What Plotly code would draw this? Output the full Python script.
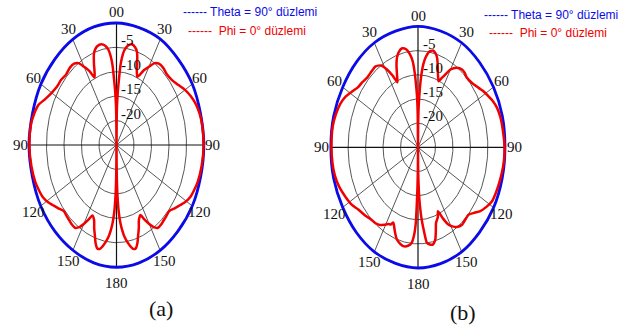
import numpy as np
import plotly.graph_objects as go

# ---------------- data ----------------
R_MIN, R_MAX = -25.0, 0.0
RING_DB = [-20, -15, -10, -5, 0]
RADIAL_TICK_DB = [-5, -10, -15, -20]
RADIAL_TICK_LABELS = ["-5", "-10", "-15", "-20"]
SPOKE_ANGLES = [0, 30, 60, 90, 120, 150]
ANGLE_TICKS = [0, 30, 60, 90, 120, 150, 180, 210, 240, 270, 300, 330]
ANGLE_LABELS = ["00", "30", "60", "90", "120", "150", "180", "150", "120", "90", "60", "30"]

BLUE_THETA = [0, 15, 30, 45, 60, 75, 90, 105, 120, 135, 150, 165, 180,
              195, 210, 225, 240, 255, 270, 285, 300, 315, 330, 345, 360]
BLUE_A = [0.0, -0.1, 0.05, -0.1, 0.0, -0.15, -0.05, -0.1, 0.0, -0.1, -0.05, 0.0, 0.05,
          0.0, -0.1, -0.05, 0.0, -0.1, 0.0, -0.15, -0.05, -0.1, 0.0, 0.05, 0.0]
BLUE_B = [0.05, -0.05, 0.0, -0.1, -0.05, 0.0, -0.1, -0.05, 0.0, -0.1, 0.0, -0.05, 0.0,
          -0.1, 0.0, -0.05, -0.1, 0.0, -0.05, 0.0, -0.1, -0.05, 0.0, -0.1, 0.05]

RED_A_THETA = [0, 0.5, 1, 2, 3, 4, 5, 6.5, 9, 12, 15, 17, 19, 21, 23, 24.5, 27, 30, 33, 36,
               40, 45, 50, 55, 60, 65, 70, 75, 80, 90, 100, 108, 113, 117, 121, 124, 128,
               132, 136, 139, 142, 145, 148, 150, 152.5, 154.5, 157.5, 159.5, 161.5, 163.5,
               165.5, 167.5, 169, 171, 173, 174.7, 176, 177.2, 178.3, 179, 179.6, 180,
               180.4, 181, 181.7, 182.8, 184, 185.3, 187, 189, 191, 192.5, 194.5, 196.5,
               198.5, 200.5, 202.5, 205.5, 207.5, 210, 212, 215, 218, 221, 224, 228, 232,
               236, 239, 243, 247, 252, 260, 270, 280, 285, 290, 295, 300, 305, 310, 315,
               320, 324, 327, 330, 333, 335.5, 337, 339, 341, 343, 345, 348, 351, 353.5,
               355, 356, 357, 358, 359, 359.5, 360]
RED_A_DB = [-25, -21, -17, -14, -11.5, -8.6, -7, -5.5, -4.4, -3.9, -4.3, -5.0, -6.8, -8.8,
            -9.8, -9.3, -7.8, -6.5, -5.0, -4.4, -4.3, -4.6, -4.3, -3.5, -2.4, -1.5, -0.8,
            -0.4, -0.2, -0.1, -0.3, -0.6, -1.0, -1.4, -2.2, -3.0, -3.9, -4.75, -4.6, -4.5,
            -4.3, -4.3, -5.2, -6.3, -7.8, -9.1, -8.3, -6.8, -5.5, -4.0, -3.1, -3.2, -3.8,
            -4.8, -6.0, -7.5, -9, -11, -14, -17, -21, -25,
            -21, -17, -14, -11, -9, -7.5, -6.0, -4.8, -3.8, -3.2, -3.1, -4.0, -5.5, -6.8,
            -8.3, -9.0, -7.8, -6.3, -5.2, -4.3, -4.3, -4.5, -4.6, -4.75, -3.9, -3.0, -2.2,
            -1.4, -1.0, -0.6, -0.3, -0.1, -0.2, -0.6, -1.2, -2.6, -3.6, -4.2, -4.3, -4.6,
            -4.3, -4.4, -5.0, -6.5, -8.0, -9.8, -9.0, -7.0, -5.2, -4.4, -4.0, -3.9, -4.4,
            -5.5, -7, -8.6, -11.5, -14, -17, -21, -25]

RED_B_THETA = [0, 0.5, 1, 2, 3, 4, 5, 6.5, 9, 12, 14.5, 16.5, 18.5, 20.8, 23.4, 25, 26.6,
               30, 34, 38, 41, 44, 49, 54.7, 58, 62.4, 66, 70, 75, 79, 90, 97.5, 107.6, 113,
               118, 122, 126.6, 130, 134, 138, 141.8, 146, 149, 151.3, 154, 156.6, 158.5,
               161.8, 163.5, 165.5, 168.2, 170.5, 172.6, 174.6, 176, 177, 178, 179, 179.6, 180,
               180.4, 181, 181.7, 182.4, 183.5, 185.3, 188, 191.6, 194.5, 197.7, 200.5, 203,
               204.5, 206, 208, 211, 214, 218, 222, 227, 233, 238, 244, 250, 256, 262, 270,
               280, 286, 292, 297, 302, 306, 310, 315, 320, 324, 328, 331, 334, 336.3, 338,
               340, 342, 344.5, 347.5, 350.5, 353, 355, 356.5, 357.5, 358.5, 359.3, 360]
RED_B_DB = [-25, -21, -17.5, -14.5, -11.5, -9.3, -7.8, -6.4, -5.0, -4.5, -4.9, -5.7, -7.2,
            -8.9, -10.1, -9.3, -8.5, -6.4, -5.1, -4.55, -4.6, -4.9, -4.6, -3.7, -3.0, -2.2,
            -1.5, -0.95, -0.6, -0.5, -0.2, -0.25, -0.6, -0.8, -1.05, -1.8, -2.8, -3.9, -4.9,
            -4.8, -4.6, -5.1, -5.9, -6.7, -8.5, -10.6, -9.5, -8.5, -7.0, -5.25, -4.4, -4.6,
            -5.0, -7.9, -10, -12, -14.5, -18, -21, -25,
            -21, -17, -13, -9, -6.8, -5.1, -4.4, -4.1, -4.4, -5.0, -6.2, -7.4, -7.9, -7.2,
            -7.0, -6.3, -5.6, -5.1, -4.9, -4.3, -3.6, -2.6, -1.8, -1.0, -0.5, -0.3, -0.2,
            -0.2, -0.5, -1.0, -1.8, -3.0, -3.8, -4.1, -4.5, -4.4, -4.3, -5.0, -6.5, -8.5,
            -10.3, -9.0, -7.0, -5.5, -4.5, -4.0, -4.4, -5.5, -7.0, -9.5, -12, -14.5, -18, -25]

LEGEND_BLUE = "------ Theta = 90° düzlemi"
LEGEND_RED = "------  Phi = 0° düzlemi"
PANEL_LABELS = ["(a)", "(b)"]

BLUE = "#0b0be8"
RED = "#f00000"
GRID = "#444444"


def to_xy(theta, db):
    t = np.radians(np.asarray(theta, dtype=float))
    rho = np.clip((np.asarray(db, dtype=float) - R_MIN) / (R_MAX - R_MIN), 0, None)
    return rho * np.sin(t), rho * np.cos(t)


fig = go.Figure()

panels = [
    dict(xa="x", ya="y", blue=BLUE_A, red_t=RED_A_THETA, red_r=RED_A_DB),
    dict(xa="x2", ya="y2", blue=BLUE_B, red_t=RED_B_THETA, red_r=RED_B_DB),
]

for p in panels:
    xa, ya = p["xa"], p["ya"]
    circ_t = np.linspace(0, 360, 361)
    for rdb in RING_DB:
        x, y = to_xy(circ_t, np.full_like(circ_t, rdb))
        fig.add_trace(go.Scatter(x=x, y=y, mode="lines", xaxis=xa, yaxis=ya,
                                 line=dict(color=GRID, width=0.9), hoverinfo="skip",
                                 showlegend=False))
    for ang in SPOKE_ANGLES:
        x, y = to_xy([ang, ang + 180], [R_MAX, R_MAX])
        main = ang in (0, 90)
        fig.add_trace(go.Scatter(x=[x[0], 0, x[1]], y=[y[0], 0, y[1]], mode="lines",
                                 xaxis=xa, yaxis=ya,
                                 line=dict(color="#111111" if main else GRID,
                                           width=1.2 if main else 0.9),
                                 hoverinfo="skip", showlegend=False))
    x, y = to_xy(BLUE_THETA, p["blue"])
    fig.add_trace(go.Scatter(x=x, y=y, mode="lines", xaxis=xa, yaxis=ya,
                             line=dict(color=BLUE, width=2.8, shape="spline", smoothing=1.0),
                             showlegend=False))
    x, y = to_xy(p["red_t"], p["red_r"])
    fig.add_trace(go.Scatter(x=x, y=y, mode="lines", xaxis=xa, yaxis=ya,
                             line=dict(color=RED, width=2.5, shape="spline", smoothing=0.6),
                             showlegend=False))

annotations = []
serif = "Liberation Serif, Times New Roman, serif"
sans = "Liberation Sans, Arial, sans-serif"
for xr, yr in (("x", "y"), ("x2", "y2")):
    for ang, lab in zip(ANGLE_TICKS, ANGLE_LABELS):
        lr = 1.1 if ang not in (0, 180) else (1.09 if ang == 0 else 1.13)
        t = np.radians(ang)
        annotations.append(dict(x=lr * np.sin(t), y=lr * np.cos(t), xref=xr, yref=yr,
                                text=lab, showarrow=False, xanchor="center", yanchor="middle",
                                font=dict(family=serif, size=15, color="#111111")))
    for rdb, lab in zip(RADIAL_TICK_DB, RADIAL_TICK_LABELS):
        rho = (rdb - R_MIN) / (R_MAX - R_MIN)
        annotations.append(dict(x=0.03, y=rho, xref=xr, yref=yr, text=lab, showarrow=False,
                                xanchor="left", yanchor="bottom", yshift=-3,
                                font=dict(family=serif, size=15, color="#111111")))

W, H = 631, 327
legend_pos = [((181, 12), (186, 31)), ((482, 15), (487, 33))]
for (bp, rp) in legend_pos:
    annotations.append(dict(x=bp[0] / W, y=1 - bp[1] / H, xref="paper", yref="paper",
                            text=LEGEND_BLUE, showarrow=False, xanchor="left", yanchor="middle",
                            font=dict(family=sans, size=12, color=BLUE)))
    annotations.append(dict(x=rp[0] / W, y=1 - rp[1] / H, xref="paper", yref="paper",
                            text=LEGEND_RED, showarrow=False, xanchor="left", yanchor="middle",
                            font=dict(family=sans, size=12, color=RED)))
for lab, (px, py) in zip(PANEL_LABELS, [(161, 308), (463, 312)]):
    annotations.append(dict(x=px / W, y=1 - py / H, xref="paper", yref="paper", text=lab,
                            showarrow=False, xanchor="center", yanchor="middle",
                            font=dict(family=serif, size=22, color="#111111")))

# axis ranges in normalised radius units, panels placed by pixel centre / radii
XR = [-1.2, 1.2]
YR = [-1.2, 1.12]


def dom(c, half, rng, total, vertical):
    if vertical:
        top = c - rng[1] * half
        bot = c - rng[0] * half
        return [1 - bot / total, 1 - top / total]
    return [(c + rng[0] * half) / total, (c + rng[1] * half) / total]


ax_common = dict(visible=False, fixedrange=True)
fig.update_layout(
    width=W, height=H, margin=dict(l=0, r=0, t=0, b=0),
    paper_bgcolor="white", plot_bgcolor="rgba(0,0,0,0)",
    xaxis=dict(domain=dom(116.5, 87.5, XR, W, False), range=XR, **ax_common),
    yaxis=dict(domain=dom(145.0, 122.0, YR, H, True), range=YR, **ax_common),
    xaxis2=dict(domain=dom(418.0, 87.3, XR, W, False), range=XR, anchor="y2", **ax_common),
    yaxis2=dict(domain=dom(147.3, 120.7, YR, H, True), range=YR, anchor="x2", **ax_common),
    annotations=annotations,
    showlegend=False,
)

fig.write_html("out.html")
